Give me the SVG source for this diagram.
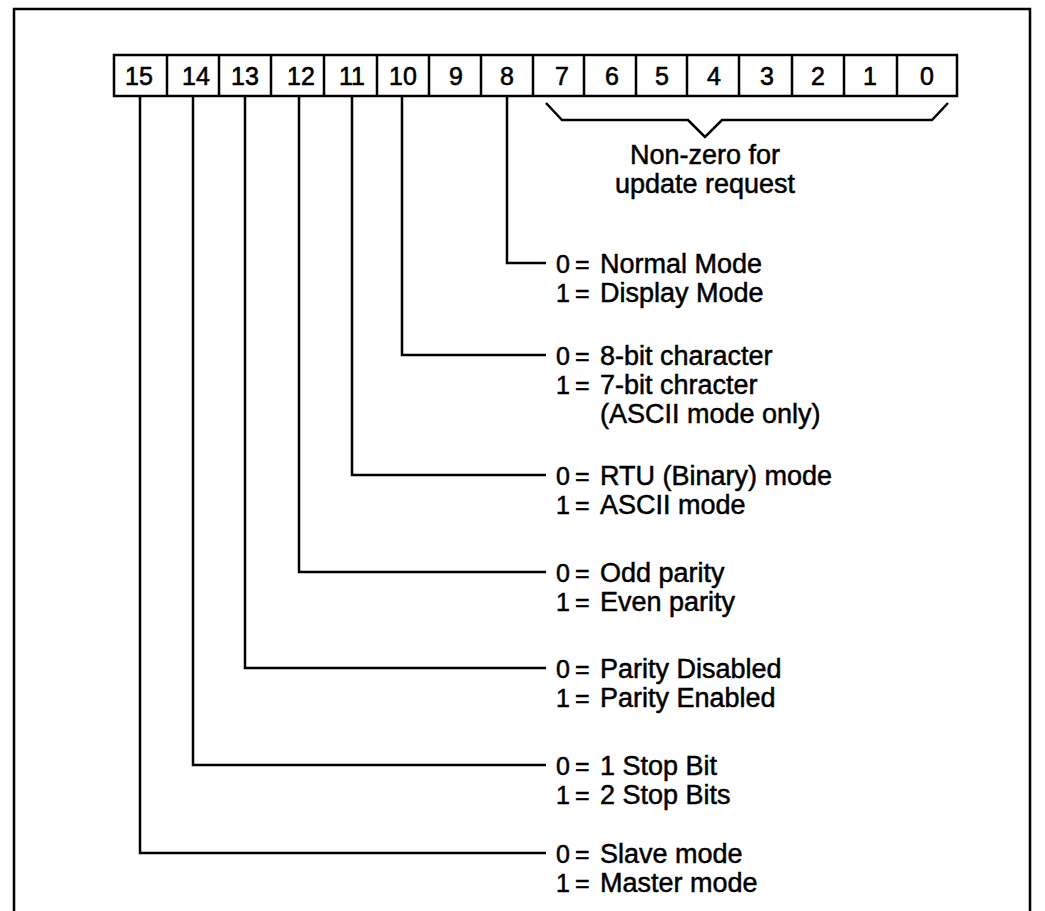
<svg xmlns="http://www.w3.org/2000/svg" width="1045" height="911" viewBox="0 0 1045 911">
  <style>
    .frame { fill: none; stroke: #000; stroke-width: 2.5; }
    .cell { fill: #fff; stroke: #000; stroke-width: 2.5; }
    .num { font-family: "Liberation Sans", Arial, sans-serif; font-size: 25px; fill: #000; stroke: #000; stroke-width: 0.6; text-anchor: middle; }
    .lbl { font-family: "Liberation Sans", Arial, sans-serif; font-size: 27px; fill: #000; stroke: #000; stroke-width: 0.5; }
    .eq { font-family: "Liberation Sans", Arial, sans-serif; font-size: 25px; fill: #000; stroke: #000; stroke-width: 0.5; }
    .lead { fill: none; stroke: #000; stroke-width: 2.5; stroke-linejoin: miter; }
  </style>
  <defs>
    <!-- "0 =" and "1 =" prefixes shared by every setting -->
    <g id="zero"><text class="eq" x="0" y="0">0</text><text class="eq" x="19" y="0">=</text></g>
    <g id="one"><text class="eq" x="0" y="0">1</text><text class="eq" x="19" y="0">=</text></g>
  </defs>
  <rect width="1045" height="911" fill="#fff"/>
  <!-- outer frame, open at the bottom -->
  <path class="frame" d="M14,911 V9 H1030 V911"/>

  <!-- 16-bit register -->
  <g id="register">
    <rect class="cell" x="114" y="55" width="843" height="41"/>
    <path class="lead" d="M167,55 V96 M219,55 V96 M271,55 V96 M324,55 V96 M377,55 V96 M429,55 V96 M481,55 V96 M533,55 V96 M584,55 V96 M636,55 V96 M687,55 V96 M739,55 V96 M792,55 V96 M844,55 V96 M897,55 V96"/>
    <text class="num" x="139" y="85">15</text>
    <text class="num" x="196" y="85">14</text>
    <text class="num" x="245" y="85">13</text>
    <text class="num" x="301" y="85">12</text>
    <text class="num" x="352" y="85">11</text>
    <text class="num" x="403" y="85">10</text>
    <text class="num" x="456" y="85">9</text>
    <text class="num" x="507" y="85">8</text>
    <text class="num" x="562" y="85">7</text>
    <text class="num" x="612" y="85">6</text>
    <text class="num" x="662" y="85">5</text>
    <text class="num" x="714" y="85">4</text>
    <text class="num" x="767" y="85">3</text>
    <text class="num" x="818" y="85">2</text>
    <text class="num" x="870" y="85">1</text>
    <text class="num" x="927" y="85">0</text>
  </g>

  <!-- brace over bits 7..0 -->
  <g id="low-byte">
    <path class="lead" d="M546,103 L562,120 H688 L705,137 L722,120 H932 L948,103"/>
    <text class="lbl" x="705" y="164" text-anchor="middle">Non-zero for</text>
    <text class="lbl" x="705" y="193" text-anchor="middle">update request</text>
  </g>

  <!-- leaders from each bit to its meaning -->
  <g id="connectors">
    <path class="lead" d="M507,96 V263 H546"/>
    <path class="lead" d="M402,96 V355 H546"/>
    <path class="lead" d="M352,96 V475 H546"/>
    <path class="lead" d="M299,96 V572 H546"/>
    <path class="lead" d="M245,96 V668 H546"/>
    <path class="lead" d="M193,96 V765 H546"/>
    <path class="lead" d="M140,96 V853 H546"/>
  </g>

  <g id="bit8">
    <use href="#zero" x="556" y="273"/>
    <text class="lbl" x="600" y="273">Normal Mode</text>
    <use href="#one" x="556" y="302"/>
    <text class="lbl" x="600" y="302">Display Mode</text>
  </g>
  <g id="bit10">
    <use href="#zero" x="556" y="365"/>
    <text class="lbl" x="600" y="365">8-bit character</text>
    <use href="#one" x="556" y="394"/>
    <text class="lbl" x="600" y="394">7-bit chracter</text>
    <text class="lbl" x="600" y="423">(ASCII mode only)</text>
  </g>
  <g id="bit11">
    <use href="#zero" x="556" y="485"/>
    <text class="lbl" x="600" y="485">RTU (Binary) mode</text>
    <use href="#one" x="556" y="514"/>
    <text class="lbl" x="600" y="514">ASCII mode</text>
  </g>
  <g id="bit12">
    <use href="#zero" x="556" y="582"/>
    <text class="lbl" x="600" y="582">Odd parity</text>
    <use href="#one" x="556" y="611"/>
    <text class="lbl" x="600" y="611">Even parity</text>
  </g>
  <g id="bit13">
    <use href="#zero" x="556" y="678"/>
    <text class="lbl" x="600" y="678">Parity Disabled</text>
    <use href="#one" x="556" y="707"/>
    <text class="lbl" x="600" y="707">Parity Enabled</text>
  </g>
  <g id="bit14">
    <use href="#zero" x="556" y="775"/>
    <text class="lbl" x="600" y="775">1 Stop Bit</text>
    <use href="#one" x="556" y="804"/>
    <text class="lbl" x="600" y="804">2 Stop Bits</text>
  </g>
  <g id="bit15">
    <use href="#zero" x="556" y="863"/>
    <text class="lbl" x="600" y="863">Slave mode</text>
    <use href="#one" x="556" y="892"/>
    <text class="lbl" x="600" y="892">Master mode</text>
  </g>
</svg>
